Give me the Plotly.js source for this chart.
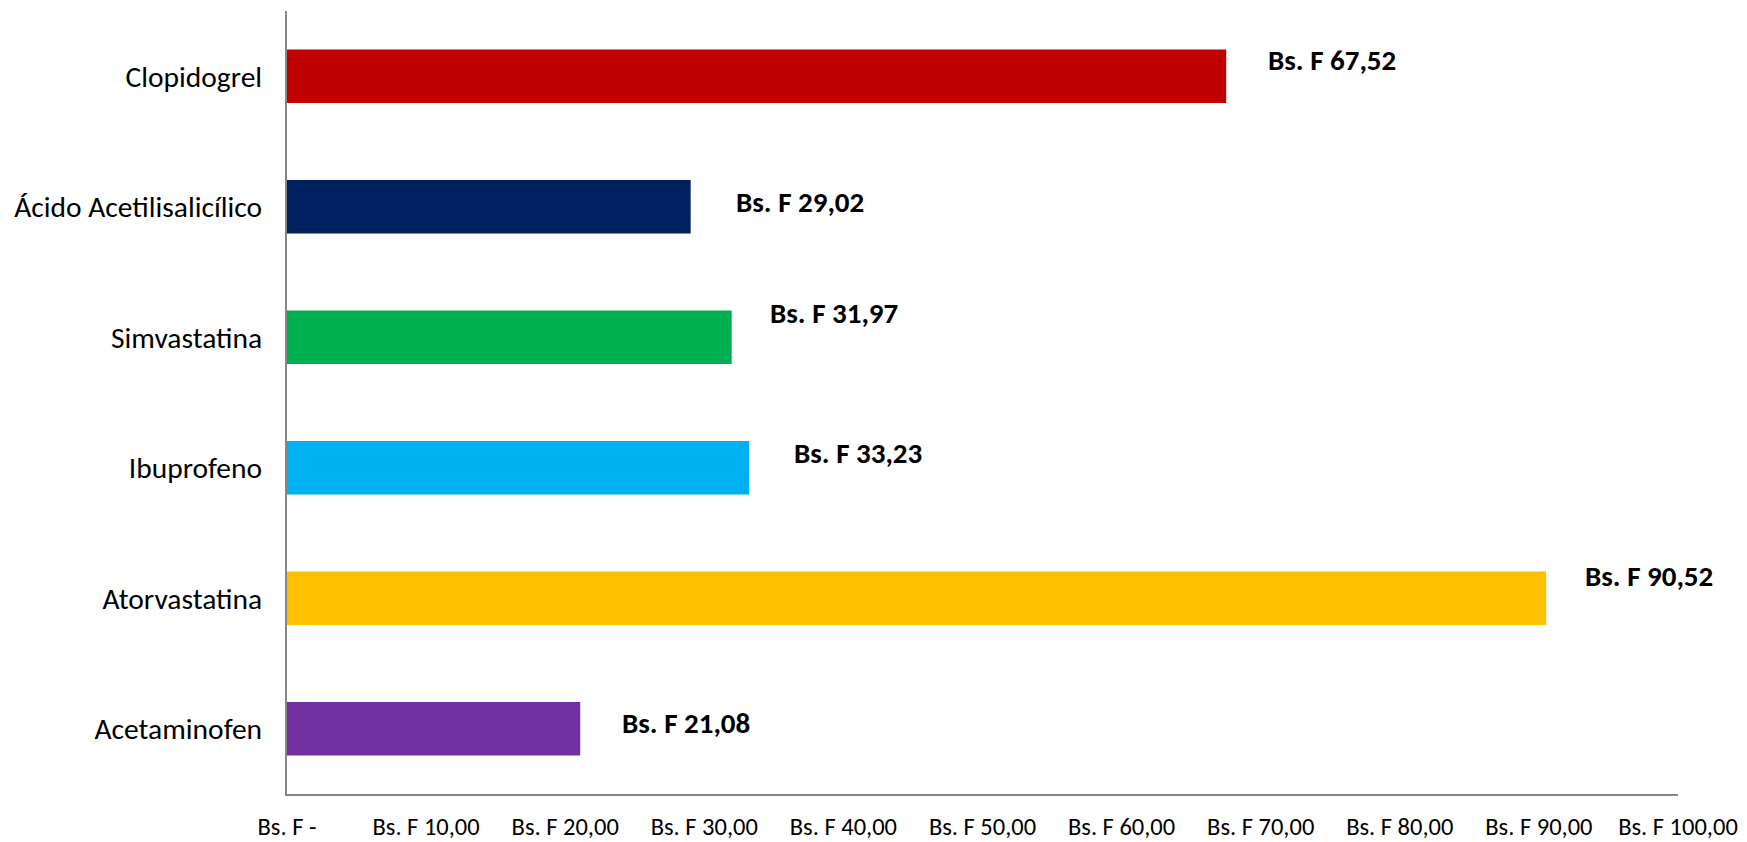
<!DOCTYPE html>
<html>
<head>
<meta charset="utf-8">
<script src="https://cdn.plot.ly/plotly-3.0.1.min.js"></script>
<style>html,body{margin:0;padding:0;background:#fff;}#chart{width:1747px;height:842px;}</style>
</head>
<body>
<div id="chart"></div>
<script>
const categories = ["Clopidogrel", "Ácido Acetilisalicílico", "Simvastatina", "Ibuprofeno", "Atorvastatina", "Acetaminofen"];
const values = [67.52, 29.02, 31.97, 33.23, 90.52, 21.08];
const valueLabels = ["Bs. F 67,52", "Bs. F 29,02", "Bs. F 31,97", "Bs. F 33,23", "Bs. F 90,52", "Bs. F 21,08"];
const barColors = ["#C00000", "#002060", "#00B050", "#00B0F0", "#FFC000", "#7030A0"];
const tickValues = [0, 10, 20, 30, 40, 50, 60, 70, 80, 90, 100];
const tickLabels = ["Bs. F -", "Bs. F 10,00", "Bs. F 20,00", "Bs. F 30,00", "Bs. F 40,00", "Bs. F 50,00", "Bs. F 60,00", "Bs. F 70,00", "Bs. F 80,00", "Bs. F 90,00", "Bs. F 100,00"];

// label placement offsets (pixels) relative to bar end / bar centre
const labelDx = [40, 43, 36, 43, 37, 40];
const labelDy = [16, 5, 24, 15, 22, 6];

const FONT = "Carlito, Calibri, Lato, 'Liberation Sans', sans-serif";

const trace = {
  type: "bar",
  orientation: "h",
  x: values,
  y: categories,
  marker: {color: barColors},
  width: 0.41,
  hoverinfo: "none"
};

const annotations = categories.map((c, i) => ({
  x: values[i],
  y: c,
  xref: "x",
  yref: "y",
  text: "<b>" + valueLabels[i] + "</b>",
  showarrow: false,
  xanchor: "left",
  yanchor: "middle",
  xshift: labelDx[i],
  yshift: labelDy[i],
  font: {family: FONT, size: 29, color: "#000"}
}));

const layout = {
  width: 1747,
  height: 842,
  margin: {l: 287, r: 69, t: 11, b: 48},
  paper_bgcolor: "#fff",
  plot_bgcolor: "#fff",
  showlegend: false,
  font: {family: FONT, size: 24, color: "#000"},
  xaxis: {
    range: [0, 100],
    tickvals: tickValues,
    ticktext: tickLabels,
    showgrid: false,
    zeroline: false,
    showline: true,
    linecolor: "#868686",
    linewidth: 2,
    ticks: "",
    ticklabelstandoff: 10,
    tickfont: {family: FONT, size: 24.5, color: "#000"},
    fixedrange: true
  },
  yaxis: {
    type: "category",
    categoryorder: "array",
    categoryarray: categories.slice().reverse(),
    showgrid: false,
    zeroline: false,
    showline: true,
    linecolor: "#868686",
    linewidth: 2,
    ticks: "",
    ticklabelstandoff: 17,
    tickfont: {family: FONT, size: 29.5, color: "#000"},
    fixedrange: true
  },
  annotations: annotations
};

Plotly.newPlot("chart", [trace], layout, {displayModeBar: false, staticPlot: true});
</script>
</body>
</html>
